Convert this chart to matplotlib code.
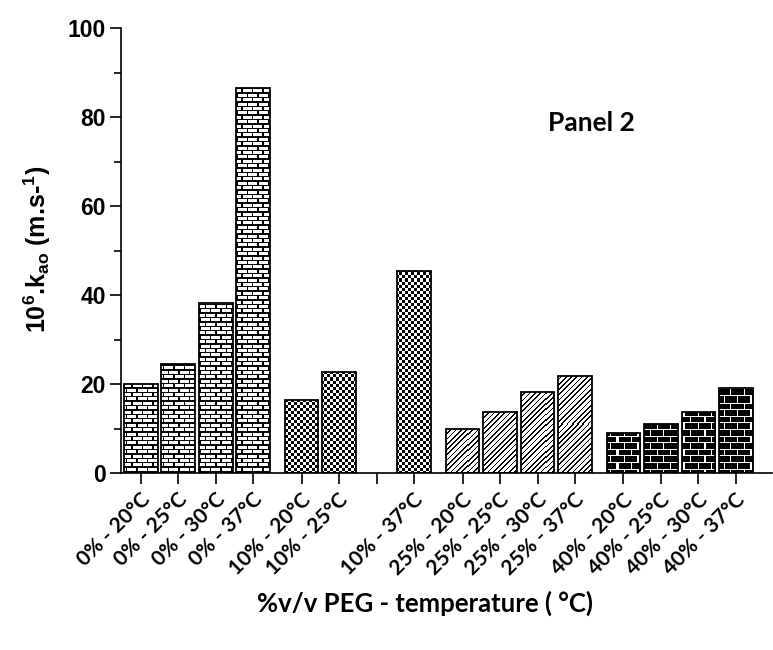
import math

import numpy as np
import matplotlib
matplotlib.use("Agg")
import matplotlib.pyplot as plt
from matplotlib.ticker import FixedLocator, MultipleLocator
from matplotlib.transforms import ScaledTranslation

peg = ["0%", "10%", "25%", "40%"]
temps = ["20°C", "25°C", "30°C", "37°C"]
k_0 = [20.0, 24.6, 38.1, 86.5]
k_10 = [16.4, 22.8, np.nan, 45.5]
k_25 = [10.0, 13.6, 18.2, 21.8]
k_40 = [9.1, 10.9, 13.7, 19.2]

series = [k_0, k_10, k_25, k_40]
fills = ["brick_white", "checker", "diag", "brick_black"]

plt.rcParams["mathtext.fontset"] = "custom"
plt.rcParams["mathtext.bf"] = "Liberation Sans:bold"
plt.rcParams["mathtext.rm"] = "Liberation Sans:bold"
plt.rcParams["mathtext.default"] = "bf"

LABEL_FONT = ["Lato", "DejaVu Sans"]
NUM_FONT = ["Liberation Sans", "DejaVu Sans"]


def brick(xs, ys, bw, bh, lw):
    row = np.floor(ys / bh)
    shift = (row % 2) * bw / 2.0
    return ((ys % bh) < lw) | (((xs + shift) % bw) < lw)


PATTERNS = {
    "brick_white": lambda x, y: np.where(brick(x, y, 10.5, 4.4, 1.4), 0.0, 1.0),
    "checker": lambda x, y: ((np.floor(x / 3.0) + np.floor(y / 3.0)) % 2).astype(float),
    "diag": lambda x, y: np.where(((x + y) % 5.3) < 1.7, 0.0, 1.0),
    "brick_black": lambda x, y: np.where(brick(x, y, 13.4, 6.6, 1.1), 1.0, 0.0),
}


def fill_bar(ax, patch, kind):
    """Paint a pixel pattern inside a bar (Prism-style brick / checker fills)."""
    H = ax.figure.bbox.height
    bb = patch.get_window_extent()
    x0, x1 = math.floor(bb.x0), math.ceil(bb.x1)
    y0, y1 = math.floor(bb.y0), math.ceil(bb.y1)
    xs = np.arange(x0, x1) + 0.5
    ys = H - (np.arange(y1, y0, -1) - 0.5)
    X, Y = np.meshgrid(xs, ys)
    img = PATTERNS[kind](X, Y)
    inv = ax.transData.inverted()
    (dx0, dy0), (dx1, dy1) = inv.transform([(x0, y0), (x1, y1)])
    im = ax.imshow(img, cmap="gray", vmin=0, vmax=1, extent=(dx0, dx1, dy0, dy1),
                   interpolation="nearest", aspect="auto", zorder=2)
    im.set_clip_path(patch)


fig = plt.figure(figsize=(7.73, 6.5), dpi=100)
ax = fig.add_axes([121 / 773, 177 / 650, 651 / 773, 445 / 650])
ax.set_xlim(-0.525, 16.83)
ax.set_ylim(0, 100)
ax.set_autoscale_on(False)

xpos, labels = [], []
for g, (pct, vals, kind) in enumerate(zip(peg, series, fills)):
    x = [4 * g + i + 0.29 * g for i in range(len(vals))]
    bars = ax.bar(x, vals, width=0.9, facecolor="none", edgecolor="black",
                  linewidth=1.3, zorder=3)
    for patch, v in zip(bars, vals):
        if not np.isnan(v):
            fill_bar(ax, patch, kind)
    xpos += x
    labels += ["" if np.isnan(v) else f"{pct} - {t}" for v, t in zip(vals, temps)]

for side in ("top", "right"):
    ax.spines[side].set_visible(False)
for side in ("left", "bottom"):
    ax.spines[side].set_linewidth(1.2)

ax.set_xticks(xpos)
ax.set_xticklabels(labels, rotation=45, ha="right", va="center", rotation_mode="anchor",
                   fontsize=15, fontweight="bold", family=LABEL_FONT)
ax.tick_params(axis="x", length=8, width=1.2, pad=9)
shift = ScaledTranslation(6 / 100, 0, fig.dpi_scale_trans)
for lab in ax.get_xticklabels():
    lab.set_transform(lab.get_transform() + shift)

ax.yaxis.set_major_locator(MultipleLocator(20))
ax.yaxis.set_minor_locator(FixedLocator([10, 30, 50, 70, 90]))
ax.tick_params(axis="y", which="major", length=8, width=1.2, pad=3)
ax.tick_params(axis="y", which="minor", length=5, width=1.2)
for lab in ax.get_yticklabels():
    lab.set_fontsize(16.5)
    lab.set_fontweight("bold")
    lab.set_family(NUM_FONT)

fig.text(37 / 773, 1 - 249 / 650, r"10$^{6}$.k$_{ao}$ (m.s-$^{1}$)", rotation=90,
         ha="center", va="center", fontsize=18, fontweight="bold", family=NUM_FONT)
fig.text(425 / 773, 1 - 603 / 650, "%v/v PEG - temperature ( °C)", ha="center", va="center",
         fontsize=18.5, fontweight="bold", family=LABEL_FONT)
fig.text(591 / 773, 1 - 123 / 650, "Panel 2", ha="center", va="center",
         fontsize=19, fontweight="bold", family=LABEL_FONT)

fig.savefig("out.png", dpi=100)
